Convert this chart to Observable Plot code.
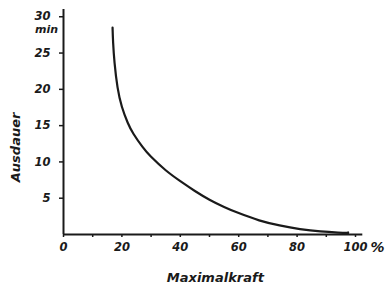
<!DOCTYPE html>
<html>
<head>
<meta charset="utf-8">
<script src="https://cdn.jsdelivr.net/npm/d3@7"></script>
<script src="https://cdn.jsdelivr.net/npm/@observablehq/plot@0.6"></script>
<style>
  html, body { margin: 0; padding: 0; background: #fff; }
</style>
</head>
<body>
<div id="chart"></div>
<script>
// Maximalkraft (%) vs Ausdauer (min)
const kraft    = [16.8, 17.0, 17.5, 18.5, 20, 22, 24, 27, 30, 35, 40, 45, 50, 55, 60, 67, 74, 81, 88, 94, 97.5];
const ausdauer = [28.5, 26.4, 23.6, 20.3, 17.6, 15.4, 13.85, 12.1, 10.7, 8.85, 7.35, 6.0, 4.8, 3.8, 2.95, 1.95, 1.25, 0.75, 0.42, 0.27, 0.22];

const xTickLabels = [0, 20, 40, 60, 80, 100];
const xMinorTicks = [10, 30, 50, 70, 90];
const yTickLabels = [5, 10, 15, 20, 25, 30];

const xTitle = "Maximalkraft";
const yTitle = "Ausdauer";
const xUnit = "%";
const yUnit = "min";

const data = kraft.map((k, i) => ({k, a: ausdauer[i]}));
const ink = "#1a1a1a";
const font = {fontFamily: "DejaVu Sans", fontStyle: "italic", fontWeight: "bold"};

const chart = Plot.plot({
  width: 385,
  height: 287,
  marginLeft: 63,
  marginRight: 30,
  marginTop: 9,
  marginBottom: 53,
  x: {domain: [0, 100]},
  y: {domain: [0, 31]},
  style: {...font, fontSize: "11px", color: ink, background: "#fff", overflow: "visible"},
  marks: [
    // axis lines
    Plot.ruleY([0], {x1: 0, x2: 102.5, stroke: ink, strokeWidth: 2}),
    Plot.ruleX([0], {y1: 0, y2: 31, stroke: ink, strokeWidth: 2}),
    // x ticks and labels
    Plot.axisX({ticks: [...xTickLabels, ...xMinorTicks], tickSize: 3, tickPadding: 5, tickFormat: d => xTickLabels.includes(d) ? String(d) : "", label: null, stroke: ink, strokeWidth: 1.5, fontSize: 11.5}),
    Plot.text([xUnit], {x: 100, y: 0, dx: 22, dy: 13, text: d => d, fontSize: 14, fill: ink, ...font}),
    Plot.text([xTitle], {x: 52, y: 0, dy: 43, text: d => d, fontSize: 13, fill: ink, ...font}),
    // y ticks and labels
    Plot.axisY({ticks: yTickLabels, tickSize: 4, tickPadding: 9, label: null, stroke: ink, strokeWidth: 1.5, fontSize: 11.5}),
    Plot.text([yUnit], {x: 0, y: 28.3, dx: -17, text: d => d, fontSize: 11, fill: ink, ...font}),
    Plot.text([yTitle], {x: 0, y: 12, dx: -48, rotate: -90, text: d => d, fontSize: 13, fill: ink, ...font}),
    // curve
    Plot.line(data, {x: "k", y: "a", curve: "natural", stroke: ink, strokeWidth: 2.2}),
    Plot.ruleX([97.5], {y1: 0, y2: 0.35, stroke: ink, strokeWidth: 1.5})
  ]
});
document.getElementById("chart").appendChild(chart);
</script>
</body>
</html>
